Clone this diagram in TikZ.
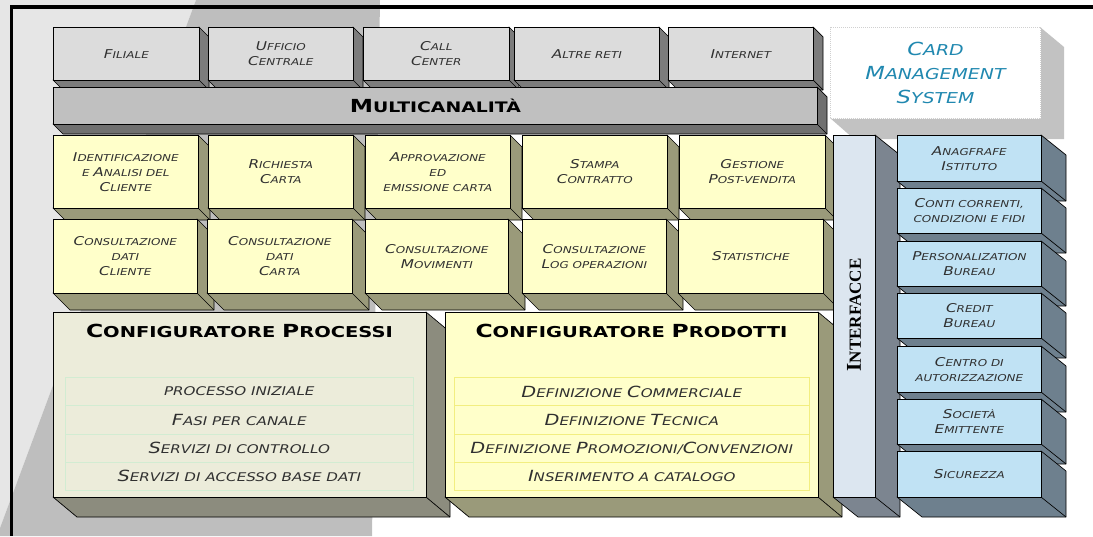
\documentclass[tikz,border=0pt]{standalone}
\usepackage{fontspec}
\newfontfamily\lblfam{DejaVu Sans}[FakeStretch=1.26]
\newfontfamily\ttlfam{DejaVu Sans}[FakeStretch=1.3]
\newfontfamily\intfam{Liberation Serif}
\makeatletter
\def\bigratio{1.28}
\newcommand\B[1]{{\fontsize{\fpeval{\f@size*\bigratio}}{\f@baselineskip}\selectfont #1}}
\makeatother
\definecolor{bglight}{HTML}{E6E6E6}
\definecolor{bgdark}{HTML}{BEBEBE}
\definecolor{labtext}{HTML}{303030}
\definecolor{topface}{HTML}{DCDCDC}
\definecolor{topside}{HTML}{7C7C7C}
\definecolor{barface}{HTML}{C0C0C0}
\definecolor{barside}{HTML}{707070}
\definecolor{ylwface}{HTML}{FFFFCA}
\definecolor{ylwside}{HTML}{9A9A7A}
\definecolor{procface}{HTML}{ECECDA}
\definecolor{procside}{HTML}{8C8C7E}
\definecolor{procline}{HTML}{D2ECD2}
\definecolor{prodline}{HTML}{F2EE80}
\definecolor{intface}{HTML}{DCE6F0}
\definecolor{intside}{HTML}{7C8590}
\definecolor{bluface}{HTML}{C0E2F4}
\definecolor{bluside}{HTML}{6E808E}
\definecolor{cmsshadow}{HTML}{C2C2C2}
\definecolor{cmsdot}{HTML}{D0D0D0}
\definecolor{cmsblue}{HTML}{2088B0}
\tikzset{
  face/.style={draw=black, line width=0.7pt, inner sep=0pt, align=center, text=labtext},
  lbl/.style={face, font=\lblfam\itshape\fontsize{9.5}{15}\selectfont},
  topbox/.style={lbl, fill=topface},
  ylwbox/.style={lbl, fill=ylwface},
  blubox/.style={lbl, fill=bluface},
  barbox/.style={face, fill=barface, text=black, font=\ttlfam\bfseries\fontsize{14.5}{16}\selectfont\def\bigratio{1.24}},
  procbox/.style={face, fill=procface},
  prodbox/.style={face, fill=ylwface},
  intbox/.style={face, fill=intface},
  ttl/.style={inner sep=0pt, text=black, font=\ttlfam\bfseries\fontsize{15}{18}\selectfont\def\bigratio{1.2}},
  rowtxt/.style={inner sep=0pt, anchor=north west, align=center, text=labtext, minimum height=28.25pt, font=\lblfam\itshape\fontsize{12}{14}\selectfont},
  procrow/.style={rowtxt, draw=procline, line width=0.6pt, minimum width=348pt},
  prodrow/.style={rowtxt, draw=prodline, line width=0.6pt, minimum width=355pt},
  intlbl/.style={inner sep=0pt, rotate=90, text=black, font=\intfam\bfseries\fontsize{17}{20}\selectfont\def\bigratio{1.24}},
  cmsbox/.style={draw=cmsdot, densely dotted, line width=1pt, fill=white, inner sep=0pt, align=center, text=cmsblue, font=\lblfam\itshape\fontsize{15}{24}\selectfont\def\bigratio{1.2}}
}
% name, x1, y1, x2, y2, face style, side colour, text
\newcommand\slab[8]{%
  \filldraw[fill=#7, draw=black, line width=0.7pt, line join=round]
    (#4,#3) -- ({#4+\DX},{#3+\DY}) -- ({#4+\DX},{#5+\DY}) -- ({#2+\DX},{#5+\DY}) -- (#2,#5) -- (#4,#5) -- cycle;
  \draw[line width=0.7pt] (#4,#5) -- ({#4+\DX},{#5+\DY});
  \node[#6, anchor=north west, minimum width={(#4-#2)*1pt}, minimum height={(#5-#3)*1pt}] (#1) at (#2,#3) {#8};
}
\begin{document}
\begin{tikzpicture}[x=1pt,y=-1pt]
\useasboundingbox (0,0) rectangle (1093,536);
% background swoosh
\fill[bglight] (0,0) -- (196,0) -- (55,380) -- (0,528) -- cycle;
\fill[bgdark] (196,0) -- (380,0) -- (372,536) -- (0,536) -- (0,528) -- (55,380) -- cycle;
% frame
\draw[line width=4pt] (10,7) -- (1093,7);
\draw[line width=3pt] (11.5,5.5) -- (11.5,536);
% channels
\def\DX{10}\def\DY{10}
\slab{filiale}{53}{27}{199}{80}{topbox}{topside}{\B{F}ILIALE}
\slab{ufficio}{208}{27}{353}{80}{topbox}{topside}{\B{U}FFICIO\\\B{C}ENTRALE}
\slab{call}{363}{27}{509}{80}{topbox}{topside}{\B{C}ALL\\\B{C}ENTER}
\slab{altre}{514}{27}{659}{80}{topbox}{topside}{\B{A}LTRE RETI}
\slab{internet}{668}{27}{813}{80}{topbox}{topside}{\B{I}NTERNET}
\slab{multi}{53}{87}{817}{124}{barbox}{barside}{\B{M}ULTICANALITÀ}
% card management system
\fill[cmsshadow] (1040,27) -- (1064,47) -- (1064,139) -- (854,139) -- (830,118) -- (1040,118) -- cycle;
\node[cmsbox, anchor=north west, minimum width=210pt, minimum height=91pt] (cms) at (830,27) {\B{C}ARD\\\B{M}ANAGEMENT\\\B{S}YSTEM};
% functions row 1
\def\DX{12}\def\DY{12}
\slab{ident}{53}{135}{198}{208}{ylwbox}{ylwside}{\B{I}DENTIFICAZIONE\\E \B{A}NALISI DEL\\\B{C}LIENTE}
\slab{richiesta}{208}{135}{353}{208}{ylwbox}{ylwside}{\B{R}ICHIESTA\\\B{C}ARTA}
\slab{approv}{365}{135}{510}{208}{ylwbox}{ylwside}{\B{A}PPROVAZIONE\\ED\\EMISSIONE CARTA}
\slab{stampa}{522}{135}{667}{208}{ylwbox}{ylwside}{\B{S}TAMPA\\\B{C}ONTRATTO}
\slab{gestione}{679}{135}{825}{208}{ylwbox}{ylwside}{\B{G}ESTIONE\\\B{P}OST-VENDITA}
% functions row 2
\def\DX{17}\def\DY{17}
\slab{cdcliente}{53}{219}{197}{293}{ylwbox}{ylwside}{\B{C}ONSULTAZIONE\\DATI\\\B{C}LIENTE}
\slab{cdcarta}{207}{219}{352}{293}{ylwbox}{ylwside}{\B{C}ONSULTAZIONE\\DATI\\\B{C}ARTA}
\slab{cmov}{365}{219}{508}{293}{ylwbox}{ylwside}{\B{C}ONSULTAZIONE\\\B{M}OVIMENTI}
\slab{clog}{522}{219}{666}{293}{ylwbox}{ylwside}{\B{C}ONSULTAZIONE\\\B{L}OG OPERAZIONI}
\slab{stat}{678}{219}{823}{293}{ylwbox}{ylwside}{\B{S}TATISTICHE}
% configurators
\def\DX{24}\def\DY{20}
\slab{proc}{53}{312}{426}{497}{procbox}{procside}{}
\node[ttl] (proctitle) at (239.5,331) {\B{C}ONFIGURATORE \B{P}ROCESSI};
\node[procrow] (p1) at (65,377) {PROCESSO INIZIALE};
\node[procrow] (p2) at (65,405.25) {\B{F}ASI PER CANALE};
\node[procrow] (p3) at (65,433.5) {\B{S}ERVIZI DI CONTROLLO};
\node[procrow] (p4) at (65,461.75) {\B{S}ERVIZI DI ACCESSO BASE DATI};
\slab{prod}{445}{312}{818}{497}{prodbox}{ylwside}{}
\node[ttl] (prodtitle) at (631.5,331) {\B{C}ONFIGURATORE \B{P}RODOTTI};
\node[prodrow] (q1) at (454,377) {\B{D}EFINIZIONE \B{C}OMMERCIALE};
\node[prodrow] (q2) at (454,405.25) {\B{D}EFINIZIONE \B{T}ECNICA};
\node[prodrow] (q3) at (454,433.5) {\B{D}EFINIZIONE \B{P}ROMOZIONI/\B{C}ONVENZIONI};
\node[prodrow] (q4) at (454,461.75) {\B{I}NSERIMENTO A CATALOGO};
% interfaces
\def\DX{25}\def\DY{20}
\slab{intf}{833}{135}{875}{497}{intbox}{intside}{}
\node[intlbl] (intlabel) at (854,315) {\B{I}NTERFACCE};
% external systems
\slab{anag}{897}{135}{1041}{181}{blubox}{bluside}{\B{A}NAGFRAFE\\\B{I}STITUTO}
\slab{conti}{897}{188}{1041}{233}{blubox}{bluside}{\B{C}ONTI CORRENTI,\\CONDIZIONI E FIDI}
\slab{perso}{897}{241}{1041}{286}{blubox}{bluside}{\B{P}ERSONALIZATION\\\B{B}UREAU}
\slab{credit}{897}{293}{1041}{338}{blubox}{bluside}{\B{C}REDIT\\\B{B}UREAU}
\slab{centro}{897}{346}{1041}{392}{blubox}{bluside}{\B{C}ENTRO DI\\AUTORIZZAZIONE}
\slab{societa}{897}{399}{1041}{444}{blubox}{bluside}{\B{S}OCIETÀ\\\B{E}MITTENTE}
\slab{sicur}{897}{451}{1041}{497}{blubox}{bluside}{\B{S}ICUREZZA}
\end{tikzpicture}
\end{document}
